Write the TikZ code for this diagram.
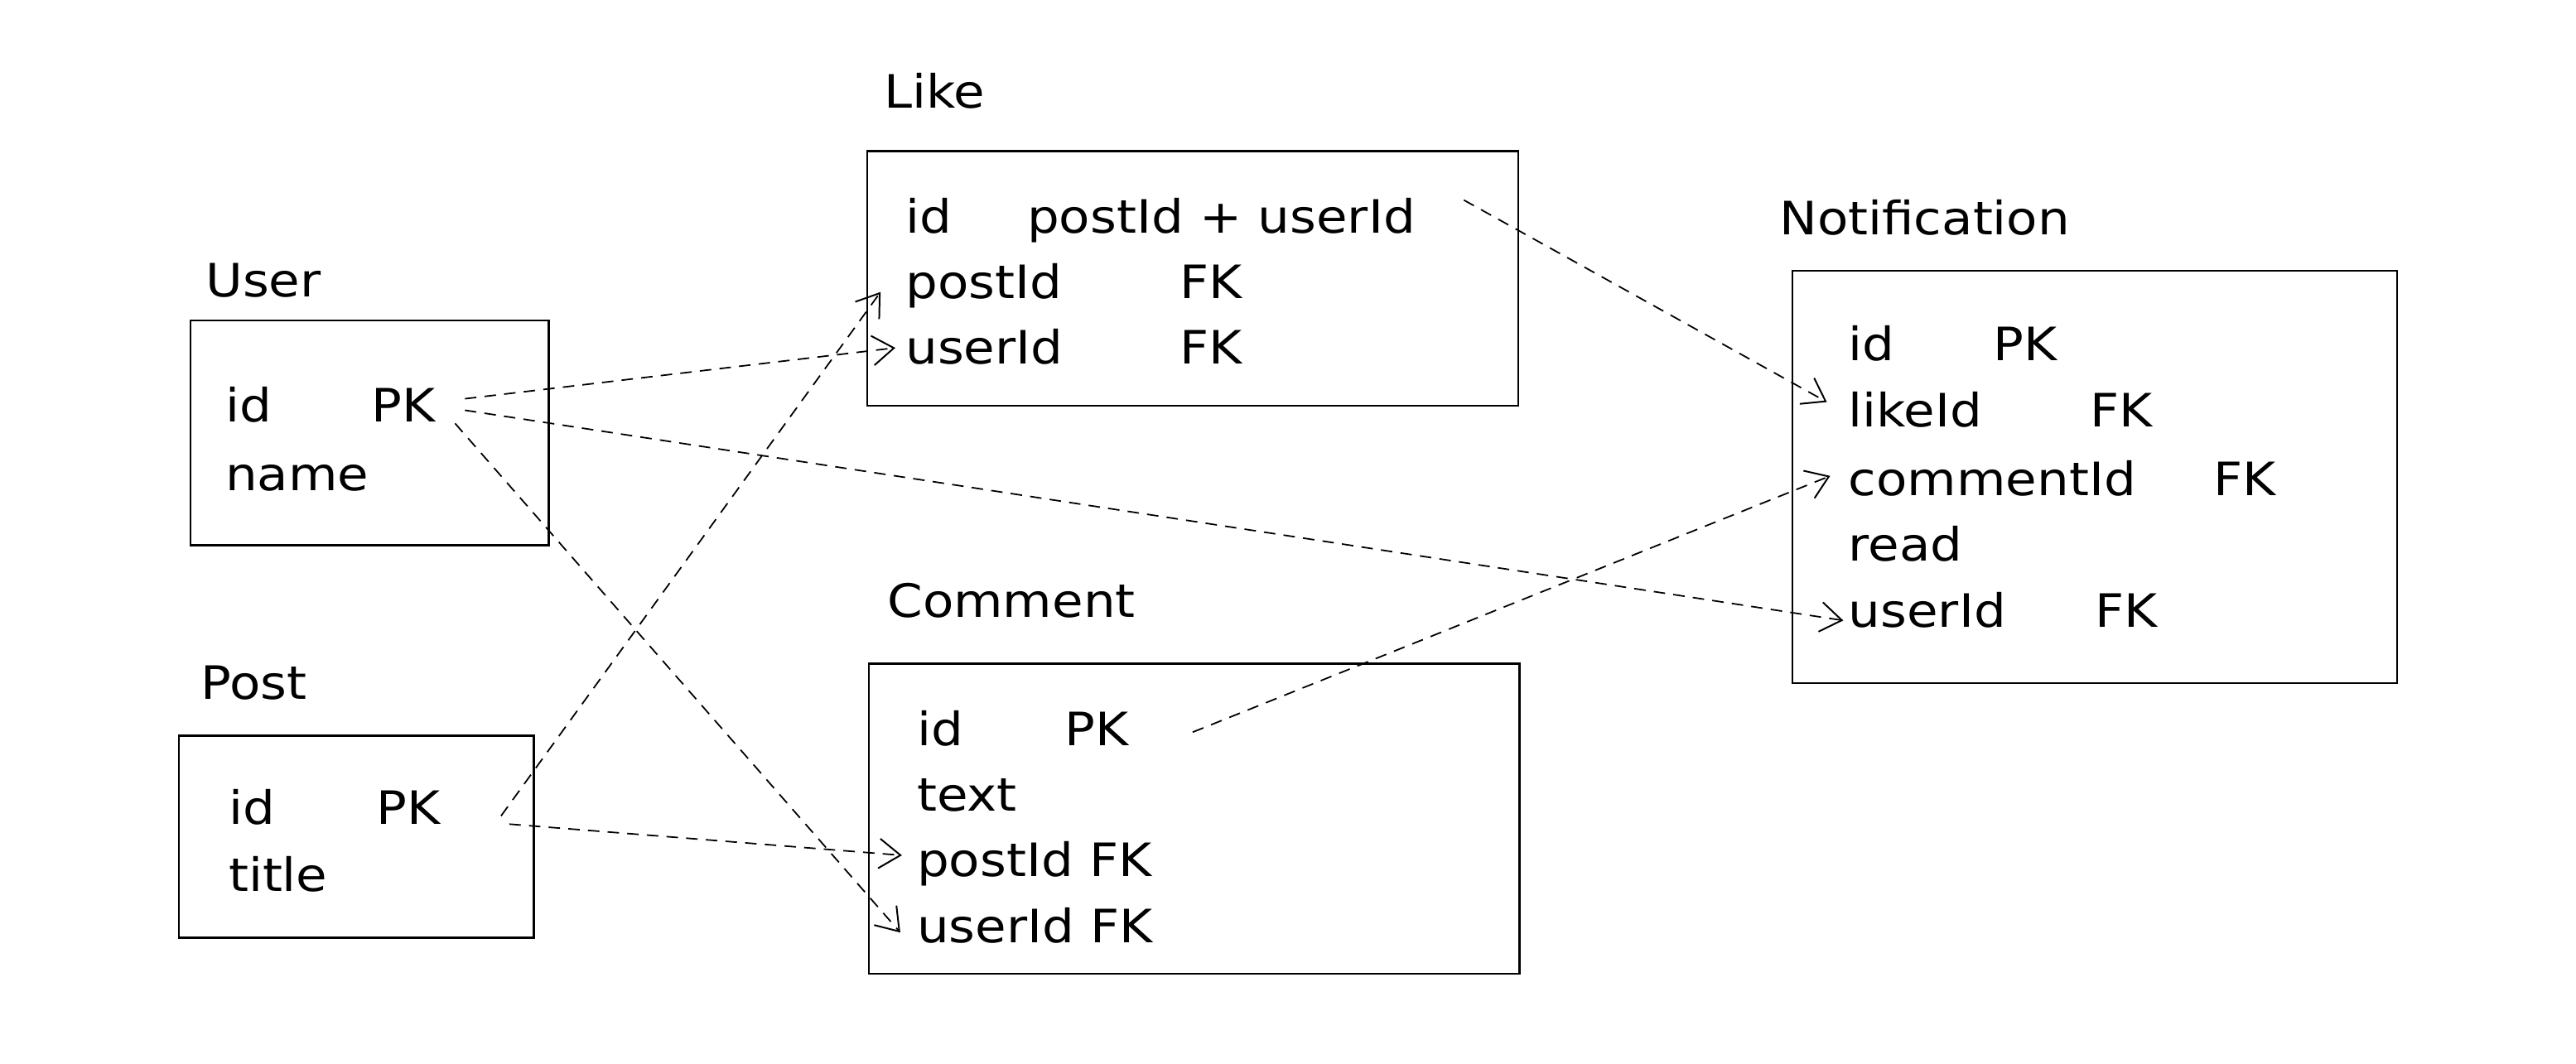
\documentclass[tikz,border=0pt]{standalone}
\usepackage{fontspec}
\setmainfont{DejaVu Sans}[FakeStretch=1.1]
\usetikzlibrary{arrows.meta,calc}
\begin{document}
\begin{tikzpicture}[x=1pt,y=-1pt,
  tbl/.style={draw=black, line width=1.2pt, inner sep=0pt, rectangle},
  txt/.style={anchor=south west, inner sep=0pt, text height=20pt, text depth=0pt, font=\fontsize{28}{30}\selectfont},
  fk/.style={draw=black, line width=0.9pt, dash pattern=on 7pt off 5pt,
    -{Straight Barb[length=13pt,width=18pt,line width=1pt]}}
]
\useasboundingbox (0,0) rectangle (1568,647.4);

% boxes
\node[tbl, minimum width=218pt, minimum height=137pt] (userbox) at (225,263.5) {};
\node[tbl, minimum width=216pt, minimum height=123pt] (postbox) at (217,509.5) {};
\node[tbl, minimum width=396pt, minimum height=155pt] (likebox) at (726,169.5) {};
\node[tbl, minimum width=396pt, minimum height=189pt] (commentbox) at (727,498.5) {};
\node[tbl, minimum width=368pt, minimum height=251pt] (notifbox) at (1275,290.5) {};

% User
\node[txt] (userT) at (125,181) {User};
\node[txt] (uId) at (137,257) {id};
\node[txt] (uPK) at (226,257) {PK};
\node[txt] (uName) at (137,299) {name};

% Post
\node[txt] (postT) at (122,426) {Post};
\node[txt] (pId) at (139,502) {id};
\node[txt] (pPK) at (229,502) {PK};
\node[txt] (pTitle) at (139,543) {title};

% Like
\node[txt] (likeT) at (538,66) {Like};
\node[txt] (lId) at (551,142) {id};
\node[txt] (lKey) at (625,142) {postId + userId};
\node[txt] (lPost) at (551,182) {postId};
\node[txt] (lPostFK) at (718,182) {FK};
\node[txt] (lUser) at (551,222) {userId};
\node[txt] (lUserFK) at (718,222) {FK};

% Comment
\node[txt] (commentT) at (540,376) {Comment};
\node[txt] (cId) at (558,454) {id};
\node[txt] (cPK) at (648,454) {PK};
\node[txt] (cText) at (558,494) {text};
\node[txt] (cPost) at (558,534) {postId FK};
\node[txt] (cUser) at (558,574) {userId FK};

% Notification
\node[txt] (notifT) at (1083,143) {Notification};
\node[txt] (nId) at (1125,220) {id};
\node[txt] (nPK) at (1213,220) {PK};
\node[txt] (nLike) at (1125,260) {likeId};
\node[txt] (nLikeFK) at (1272,260) {FK};
\node[txt] (nComment) at (1125,302) {commentId};
\node[txt] (nCommentFK) at (1347,302) {FK};
\node[txt] (nRead) at (1125,342) {read};
\node[txt] (nUser) at (1125,382) {userId};
\node[txt] (nUserFK) at (1275,382) {FK};

% connectors
\draw[fk] ($(uPK.west)+(57,-4)$) -- ($(lUser.west)+(-6,0)$);
\draw[fk] ($(uPK.west)+(57,3)$) -- ($(nUser.west)+(-3,6)$);
\draw[fk] ($(uPK.west)+(51,11)$) -- ($(cUser.west)+(-10,4)$);
\draw[fk] ($(pPK.west)+(76,5)$) -- ($(lPost.west)+(-15,6)$);
\draw[fk] ($(pPK.west)+(81,10)$) -- ($(cPost.west)+(-9,-3)$);
\draw[fk] ($(lKey.west)+(266,-10)$) -- ($(nLike.west)+(-13,-5)$);
\draw[fk] ($(cPK.west)+(78,2)$) -- ($(nComment.west)+(-11,-2)$);
\end{tikzpicture}
\end{document}
